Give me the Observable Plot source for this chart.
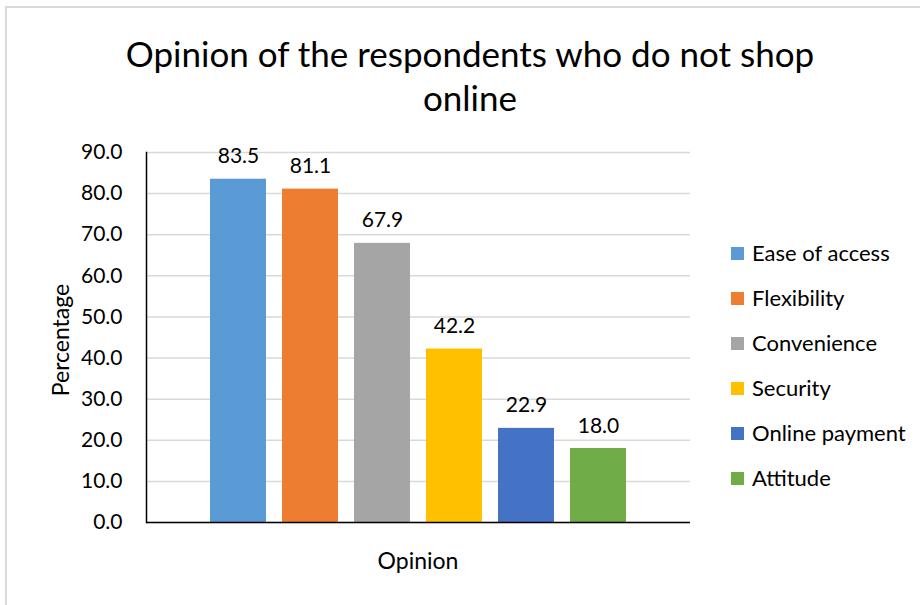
<!DOCTYPE html>
<html>
<head>
<meta charset="utf-8">
<script src="https://cdn.jsdelivr.net/npm/d3@7"></script>
<script src="https://cdn.jsdelivr.net/npm/@observablehq/plot@0.6"></script>
<style>
  html, body { margin: 0; padding: 0; background: #fff; }
  body { width: 920px; height: 605px; overflow: hidden; position: relative; font-family: Lato, "Open Sans", sans-serif; }
  #frame { position: absolute; left: 5px; top: 6px; width: 960px; height: 660px; border: 2px solid #d9d9d9; box-sizing: border-box; }
  #title { position: absolute; left: 0; width: 940px; top: 31px; text-align: center; font-size: 35px; line-height: 44px; color: #000; }
  #chart { position: absolute; left: 0; top: 0; }
  #legend { position: absolute; left: 731px; top: 239px; font-size: 22px; color: #000; }
  .item { height: 45px; display: flex; align-items: flex-start; }
  .sw { width: 13px; height: 13px; margin-right: 8px; margin-top: 8px; }
  #xlabel { position: absolute; left: 318px; width: 200px; text-align: center; top: 546px; font-size: 23px; }
  #ylabel { position: absolute; left: 60px; top: 340px; font-size: 23px; transform: translate(-50%, -50%) rotate(-90deg); white-space: nowrap; }
</style>
</head>
<body>
<div id="frame"></div>
<div id="title">Opinion of the respondents who do not shop<br>online</div>
<div id="chart"></div>
<div id="legend"></div>
<div id="xlabel">Opinion</div>
<div id="ylabel">Percentage</div>
<script>
const categories = ["Ease of access", "Flexibility", "Convenience", "Security", "Online payment", "Attitude"];
const values = [83.5, 81.1, 67.9, 42.2, 22.9, 18.0];
const colors = ["#5B9BD5", "#ED7D31", "#A5A5A5", "#FFC000", "#4472C4", "#70AD47"];
const yTicks = [0, 10, 20, 30, 40, 50, 60, 70, 80, 90];

const data = categories.map((c, i) => ({category: c, value: values[i]}));

const chart = Plot.plot({
  width: 920,
  height: 605,
  marginTop: 152,
  marginBottom: 83,
  marginLeft: 146,
  marginRight: 230,
  style: {fontFamily: "Lato, 'Open Sans', sans-serif", fontSize: "21px", color: "#000", background: "transparent"},
  x: {domain: categories, paddingInner: 0.216, paddingOuter: 0.8475, axis: null},
  y: {domain: [0, 90]},
  color: {domain: categories, range: colors},
  marks: [
    Plot.gridY(yTicks, {stroke: "#d9d9d9", strokeOpacity: 1, strokeWidth: 1.5}),
    Plot.barY(data, {x: "category", y: "value", fill: "category"}),
    Plot.text(data, {x: "category", y: "value", text: d => d.value.toFixed(1), lineAnchor: "bottom", dy: -16, fontSize: 21, fill: "#000"}),
    Plot.axisY(yTicks, {tickSize: 0, tickPadding: 24, tickFormat: d => d.toFixed(1), fontSize: 21, label: null}),
    Plot.frame({anchor: "left", stroke: "#000", strokeWidth: 1.5}),
    Plot.ruleY([0], {stroke: "#000", strokeWidth: 1.5})
  ]
});
document.getElementById("chart").appendChild(chart);

const legend = document.getElementById("legend");
categories.forEach((c, i) => {
  const item = document.createElement("div");
  item.className = "item";
  const sw = document.createElement("div");
  sw.className = "sw";
  sw.style.background = colors[i];
  const lab = document.createElement("span");
  lab.textContent = c;
  item.appendChild(sw);
  item.appendChild(lab);
  legend.appendChild(item);
});
</script>
</body>
</html>
